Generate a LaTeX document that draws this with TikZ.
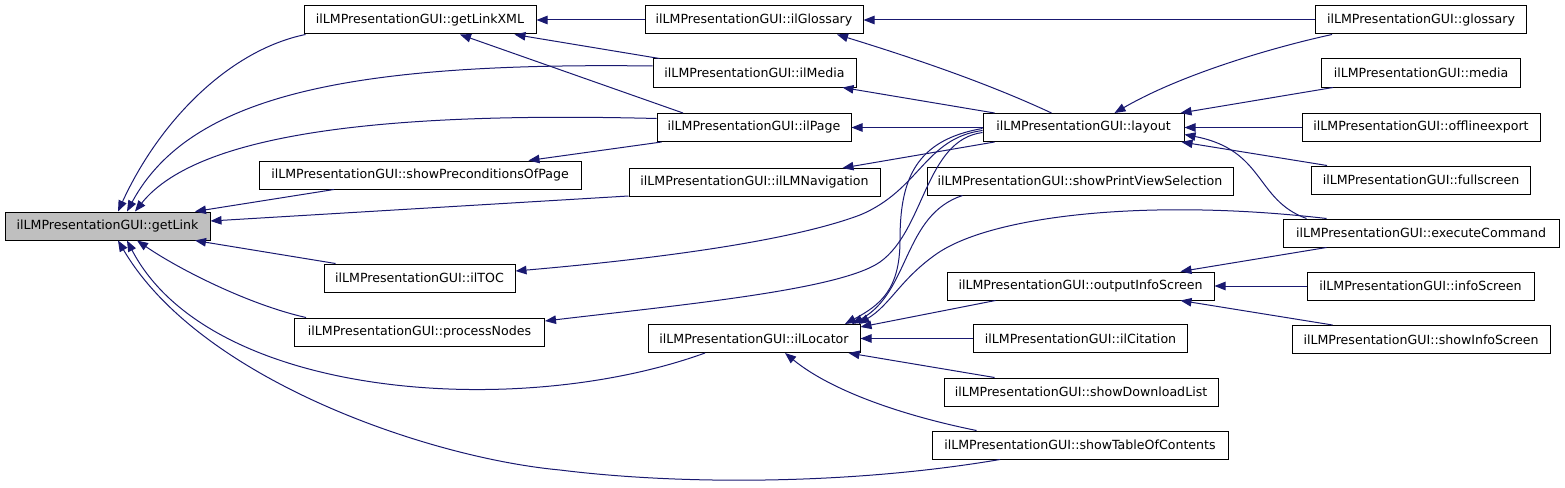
\documentclass[tikz,border=0pt]{standalone}
\usepackage{fontspec}
\setmainfont{DejaVu Sans}
\usetikzlibrary{arrows.meta}
\definecolor{edgeblue}{HTML}{191970}
\definecolor{hlgray}{HTML}{BFBFBF}
\begin{document}
\begin{tikzpicture}[x=1pt,y=-1pt,
  fn/.style={draw=black, line width=1pt, minimum height=28pt, inner sep=0pt,
    font=\fontsize{12.6pt}{15pt}\selectfont},
  edge/.style={draw=edgeblue, line width=1pt, arrows={Triangle[length=11pt,width=8.5pt]-}}
]
\useasboundingbox (0,0) rectangle (1565,487);
% nodes
\node[fn, minimum width=232pt] (getLinkXML) at (420,20) {ilLMPresentationGUI::getLinkXML};
\node[fn, minimum width=218pt] (ilGlossary) at (754,20) {ilLMPresentationGUI::ilGlossary};
\node[fn, minimum width=211pt] (glossary) at (1421,20) {ilLMPresentationGUI::glossary};
\node[fn, minimum width=203pt] (ilMedia) at (754.5,73) {ilLMPresentationGUI::ilMedia};
\node[fn, minimum width=199pt] (media) at (1421,73) {ilLMPresentationGUI::media};
\node[fn, minimum width=194pt] (ilPage) at (754,127.5) {ilLMPresentationGUI::ilPage};
\node[fn, minimum width=201pt] (layout) at (1083.5,127.5) {ilLMPresentationGUI::layout};
\node[fn, minimum width=238pt] (offlineexport) at (1421,127.5) {ilLMPresentationGUI::offlineexport};
\node[fn, minimum width=322pt] (sPOP) at (420,175) {ilLMPresentationGUI::showPreconditionsOfPage};
\node[fn, minimum width=251pt] (ilLMNavigation) at (754.5,182.5) {ilLMPresentationGUI::ilLMNavigation};
\node[fn, minimum width=306pt] (sPVS) at (1080,181) {ilLMPresentationGUI::showPrintViewSelection};
\node[fn, minimum width=219pt] (fullscreen) at (1421,180) {ilLMPresentationGUI::fullscreen};
\node[fn, minimum width=205pt, fill=hlgray] (getLink) at (107.5,226) {ilLMPresentationGUI::getLink};
\node[fn, minimum width=276pt] (executeCommand) at (1421,233) {ilLMPresentationGUI::executeCommand};
\node[fn, minimum width=191pt] (ilTOC) at (419.5,278) {ilLMPresentationGUI::ilTOC};
\node[fn, minimum width=267pt] (oIS) at (1080.5,286) {ilLMPresentationGUI::outputInfoScreen};
\node[fn, minimum width=227pt] (infoScreen) at (1420.5,286) {ilLMPresentationGUI::infoScreen};
\node[fn, minimum width=250pt] (processNodes) at (419.5,332) {ilLMPresentationGUI::processNodes};
\node[fn, minimum width=212pt] (ilLocator) at (754,338.5) {ilLMPresentationGUI::ilLocator};
\node[fn, minimum width=214pt] (ilCitation) at (1080.5,338.5) {ilLMPresentationGUI::ilCitation};
\node[fn, minimum width=258pt] (sIS) at (1421,339.5) {ilLMPresentationGUI::showInfoScreen};
\node[fn, minimum width=274pt] (sDL) at (1081,392) {ilLMPresentationGUI::showDownloadList};
\node[fn, minimum width=296pt] (sTOC) at (1080,445) {ilLMPresentationGUI::showTableOfContents};
% edges into getLink
\draw[edge] ([xshift=10.5pt]getLink.north) .. controls (160,120) and (230,50) .. ([xshift=2pt]getLinkXML.south west);
\draw[edge] ([xshift=19.5pt]getLink.north) .. controls (190,95) and (350,62) .. ([yshift=7pt]ilMedia.west);
\draw[edge] ([xshift=27.5pt]getLink.north) .. controls (200,130) and (400,112) .. ([yshift=9pt]ilPage.west);
\draw[edge] ([xshift=87.5pt]getLink.north) -- ([xshift=-86pt]sPOP.south);
\draw[edge] ([yshift=5pt]getLink.east) -- ([yshift=1pt]ilLMNavigation.south west);
\draw[edge] ([xshift=87.5pt]getLink.south) -- ([xshift=12pt]ilTOC.north west);
\draw[edge] ([xshift=29.5pt]getLink.south) .. controls (180,270) and (250,305) .. ([xshift=12pt]processNodes.north west);
\draw[edge] ([xshift=19.5pt]getLink.south) .. controls (210,400) and (520,420) .. ([xshift=-49pt]ilLocator.south);
\draw[edge] ([xshift=10.5pt]getLink.south) .. controls (200,380) and (430,458) .. (560,470) .. controls (680,485) and (850,485) .. ([xshift=-80pt]sTOC.south);
% getLinkXML
\draw[edge] (getLinkXML.east) -- (ilGlossary.west);
\draw[edge] ([xshift=-22pt]getLinkXML.south east) -- ([xshift=7pt]ilMedia.north west);
\draw[edge] ([xshift=40pt]getLinkXML.south) -- ([xshift=-71pt]ilPage.north);
% showPreconditionsOfPage
\draw[edge] ([xshift=-53pt]sPOP.north east) -- ([xshift=5pt]ilPage.south west);
% ilGlossary
\draw[edge] (ilGlossary.east) -- (glossary.west);
\draw[edge] ([xshift=83pt]ilGlossary.south) .. controls (910,57) and (985,82) .. ([xshift=-32pt]layout.north);
% from layout
\draw[edge] ([xshift=88pt]ilMedia.south) -- ([xshift=12pt]layout.north west);
\draw[edge] (ilPage.east) -- (layout.west);
\draw[edge] ([xshift=88pt]ilLMNavigation.north) -- ([xshift=12pt]layout.south west);
\draw[edge] ([yshift=7pt]ilTOC.east) .. controls (620,262) and (780,245) .. (860,215) .. controls (920,190) and (925,138) .. ([yshift=-3pt]layout.west);
\draw[edge] ([yshift=11pt]processNodes.east) .. controls (680,305) and (840,290) .. (880,262) .. controls (925,230) and (925,140) .. ([yshift=-5pt]layout.west);
\draw[edge] ([xshift=91pt]ilLocator.north) .. controls (880,305) and (900,290) .. (900,240) .. controls (900,180) and (915,140) .. ([yshift=-1pt]layout.west);
% into layout
\draw[edge] ([xshift=31pt]layout.north) .. controls (1180,75) and (1270,48) .. ([xshift=17pt]glossary.south west);
\draw[edge] ([xshift=-4pt]layout.north east) -- ([xshift=12pt]media.south west);
\draw[edge] (layout.east) -- (offlineexport.west);
\draw[edge] ([xshift=-3pt]layout.south east) -- ([xshift=16pt]fullscreen.north west);
\draw[edge] ([yshift=-7pt]layout.east) .. controls (1265,150) and (1255,200) .. ([xshift=24pt]executeCommand.north west);
% into ilLocator
\draw[edge] ([xshift=98pt]ilLocator.north) .. controls (910,292) and (903,215) .. ([xshift=36pt]sPVS.south west);
\draw[edge] ([xshift=-2pt]ilLocator.north east) .. controls (890,305) and (900,280) .. (935,255) .. controls (990,215) and (1150,198) .. ([xshift=44pt]executeCommand.north west);
\draw[edge] ([yshift=-3pt]ilLocator.north east) -- ([xshift=-85pt]oIS.south);
\draw[edge] (ilLocator.east) -- (ilCitation.west);
\draw[edge] ([xshift=-12pt]ilLocator.south east) -- ([xshift=51pt]sDL.north west);
\draw[edge] ([xshift=31pt]ilLocator.south) .. controls (830,390) and (900,415) .. ([xshift=45pt]sTOC.north west);
% into outputInfoScreen
\draw[edge] ([xshift=-34pt]oIS.north east) -- ([xshift=44pt]executeCommand.south west);
\draw[edge] (oIS.east) -- (infoScreen.west);
\draw[edge] ([xshift=-34pt]oIS.south east) -- ([xshift=41pt]sIS.north west);
\end{tikzpicture}
\end{document}
